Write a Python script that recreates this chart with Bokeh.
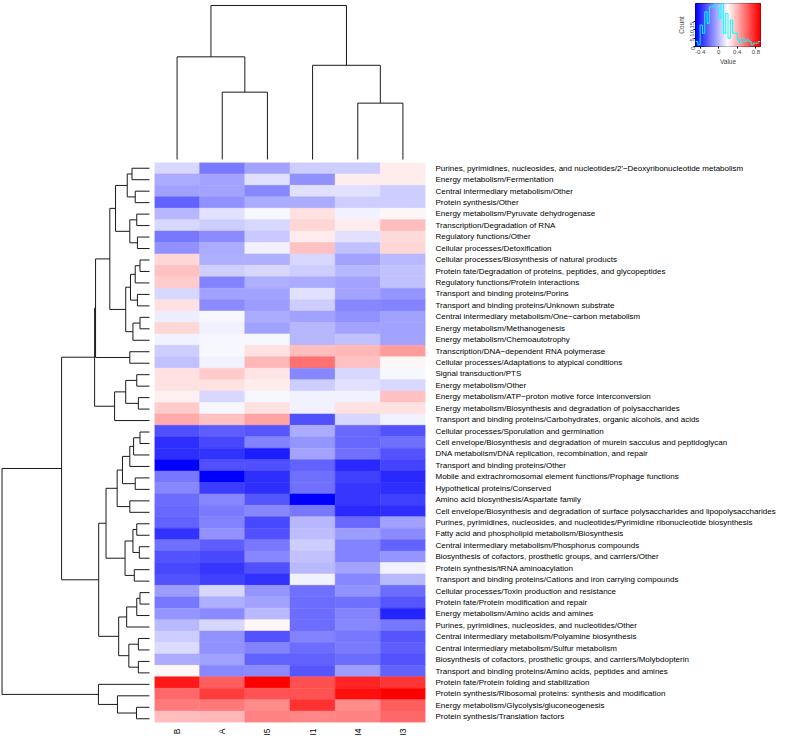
import numpy as np
from bokeh.plotting import figure
from bokeh.layouts import row, column
from bokeh.models import Range1d, FactorRange, LinearColorMapper, Spacer, FixedTicker, ColumnDataSource
from bokeh.transform import transform
from bokeh.embed import file_html
from bokeh.resources import INLINE

samples = ["B", "A", "I5", "I1", "I4", "I3"]

pathways = [
    "Purines, pyrimidines, nucleosides, and nucleotides/2'\u2212Deoxyribonucleotide metabolism",
    "Energy metabolism/Fermentation",
    "Central intermediary metabolism/Other",
    "Protein synthesis/Other",
    "Energy metabolism/Pyruvate dehydrogenase",
    "Transcription/Degradation of RNA",
    "Regulatory functions/Other",
    "Cellular processes/Detoxification",
    "Cellular processes/Biosynthesis of natural products",
    "Protein fate/Degradation of proteins, peptides, and glycopeptides",
    "Regulatory functions/Protein interactions",
    "Transport and binding proteins/Porins",
    "Transport and binding proteins/Unknown substrate",
    "Central intermediary metabolism/One\u2212carbon metabolism",
    "Energy metabolism/Methanogenesis",
    "Energy metabolism/Chemoautotrophy",
    "Transcription/DNA\u2212dependent RNA polymerase",
    "Cellular processes/Adaptations to atypical conditions",
    "Signal transduction/PTS",
    "Energy metabolism/Other",
    "Energy metabolism/ATP\u2212proton motive force interconversion",
    "Energy metabolism/Biosynthesis and degradation of polysaccharides",
    "Transport and binding proteins/Carbohydrates, organic alcohols, and acids",
    "Cellular processes/Sporulation and germination",
    "Cell envelope/Biosynthesis and degradation of murein sacculus and peptidoglycan",
    "DNA metabolism/DNA replication, recombination, and repair",
    "Transport and binding proteins/Other",
    "Mobile and extrachromosomal element functions/Prophage functions",
    "Hypothetical proteins/Conserved",
    "Amino acid biosynthesis/Aspartate family",
    "Cell envelope/Biosynthesis and degradation of surface polysaccharides and lipopolysaccharides",
    "Purines, pyrimidines, nucleosides, and nucleotides/Pyrimidine ribonucleotide biosynthesis",
    "Fatty acid and phospholipid metabolism/Biosynthesis",
    "Central intermediary metabolism/Phosphorus compounds",
    "Biosynthesis of cofactors, prosthetic groups, and carriers/Other",
    "Protein synthesis/tRNA aminoacylation",
    "Transport and binding proteins/Cations and iron carrying compounds",
    "Cellular processes/Toxin production and resistance",
    "Protein fate/Protein modification and repair",
    "Energy metabolism/Amino acids and amines",
    "Purines, pyrimidines, nucleosides, and nucleotides/Other",
    "Central intermediary metabolism/Polyamine biosynthesis",
    "Central intermediary metabolism/Sulfur metabolism",
    "Biosynthesis of cofactors, prosthetic groups, and carriers/Molybdopterin",
    "Transport and binding proteins/Amino acids, peptides and amines",
    "Protein fate/Protein folding and stabilization",
    "Protein synthesis/Ribosomal proteins: synthesis and modification",
    "Energy metabolism/Glycolysis/gluconeogenesis",
    "Protein synthesis/Translation factors",
]

val_B = [0.09, -0.03, -0.06, -0.23, 0.00, 0.09, -0.17, -0.10, 0.31, 0.37,
         0.34, 0.09, 0.28, 0.15, 0.31, 0.16, 0.06, 0.03, 0.28, 0.28,
         0.24, 0.34, 0.43, -0.28, -0.37, -0.37, -0.50, -0.17, -0.13, -0.20,
         -0.21, -0.23, -0.36, -0.19, -0.27, -0.30, -0.27, -0.07, -0.17, -0.09,
         0.01, 0.06, 0.10, -0.03, 0.22, 0.83, 0.61, 0.56, 0.38]
val_A = [-0.16, -0.05, -0.05, -0.10, 0.12, 0.06, -0.12, -0.03, -0.02, 0.07,
         -0.14, -0.06, -0.12, 0.18, 0.16, 0.18, 0.18, 0.16, 0.34, 0.28,
         0.09, 0.18, 0.37, -0.24, -0.30, -0.36, -0.28, -0.50, -0.33, -0.13,
         -0.16, -0.14, -0.10, -0.24, -0.30, -0.35, -0.32, 0.09, -0.02, -0.12,
         0.09, -0.10, -0.10, -0.06, -0.13, 0.64, 0.73, 0.57, 0.40]
val_I5 = [-0.05, 0.12, -0.13, -0.03, 0.18, 0.09, 0.05, 0.16, -0.02, 0.09,
          -0.02, -0.06, -0.07, -0.03, -0.06, 0.18, 0.28, 0.40, 0.27, 0.25,
          0.18, 0.28, 0.45, -0.26, -0.14, -0.42, -0.28, -0.37, -0.37, -0.26,
          -0.13, -0.30, -0.28, -0.17, -0.13, -0.28, -0.36, -0.09, -0.05, 0.01,
          0.22, -0.27, -0.14, -0.23, -0.12, 0.90, 0.67, 0.52, 0.54]
val_I1 = [0.06, -0.10, 0.12, -0.03, 0.28, 0.31, 0.25, 0.37, 0.09, 0.06,
          -0.03, 0.12, 0.06, -0.06, 0.00, 0.00, 0.38, 0.59, -0.13, 0.06,
          0.16, 0.16, -0.28, -0.03, -0.09, -0.05, -0.23, -0.19, -0.19, -0.50,
          -0.17, 0.00, 0.02, 0.06, 0.03, 0.01, 0.16, -0.19, -0.20, -0.20,
          -0.20, -0.14, -0.20, -0.23, -0.26, 0.68, 0.67, 0.76, 0.53]
val_I4 = [0.06, 0.25, 0.12, 0.06, 0.16, 0.25, 0.12, 0.03, -0.05, 0.00,
          -0.05, -0.05, -0.13, -0.10, -0.05, 0.03, 0.40, 0.37, 0.09, 0.12,
          0.16, 0.28, 0.09, -0.21, -0.21, -0.19, -0.39, -0.32, -0.35, -0.35,
          -0.39, -0.21, -0.07, -0.14, -0.14, -0.05, -0.13, -0.10, -0.19, -0.14,
          -0.13, -0.17, -0.16, -0.20, -0.07, 0.80, 0.86, 0.52, 0.54]
val_I3 = [0.25, 0.25, 0.06, 0.06, 0.22, 0.38, 0.30, 0.31, 0.01, 0.03,
          0.03, -0.09, -0.14, -0.06, -0.06, -0.05, 0.47, 0.22, 0.18, 0.09,
          0.37, 0.28, 0.16, -0.27, -0.19, -0.27, -0.31, -0.39, -0.37, -0.32,
          -0.37, -0.06, -0.12, -0.23, -0.09, 0.16, 0.01, -0.20, -0.26, -0.40,
          -0.17, -0.26, -0.24, -0.27, -0.23, 0.75, 0.90, 0.64, 0.61]

# hclust-style merges: negative = leaf (1-based row), positive = earlier merge
row_merges = [
    (-1, -2, 0.184), (-3, -4, 0.150), (1, 2, 0.234), (-5, -6, 0.134),
    (-7, -8, 0.127), (4, 5, 0.207), (3, 6, 0.357), (-9, -10, 0.100),
    (8, -11, 0.150), (-12, -13, 0.127), (9, 10, 0.200), (-14, -15, 0.100),
    (12, -16, 0.174), (11, 13, 0.250), (7, 14, 0.417), (-17, -18, 0.207),
    (15, 16, 0.567), (-19, -20, 0.134), (-21, -22, 0.117), (18, 19, 0.250),
    (20, -23, 0.367), (17, 21, 0.577), (-24, -25, 0.100), (23, -26, 0.167),
    (24, -27, 0.207), (-28, -29, 0.150), (25, 26, 0.284), (-30, -31, 0.207),
    (27, 28, 0.340), (-32, -33, 0.134), (-34, -35, 0.107), (30, 31, 0.174),
    (-36, -37, 0.160), (32, 33, 0.257), (29, 34, 0.457), (-38, -39, 0.100),
    (36, -40, 0.134), (37, -41, 0.240), (-42, -43, 0.117), (-44, -45, 0.117),
    (39, 40, 0.217), (38, 41, 0.324), (35, 42, 0.534), (22, 43, 0.924),
    (-48, -49, 0.137), (-47, 45, 0.337), (-46, 46, 0.537), (44, 47, 1.550),
]
col_merges = [(-2, -3, 0.717), (-5, -6, 0.600), (-1, 1, 1.093), (-4, 2, 1.003), (3, 4, 1.640)]

key_ticks = [-0.4, 0.0, 0.4, 0.8]
count_ticks = [0, 5, 10, 15]
VMIN, VMAX = -0.5, 0.9
N_HIST_BINS = 28

FONT = "Liberation Sans"
LINE = "#1a1a1a"

columns_vals = {"B": val_B, "A": val_A, "I5": val_I5, "I1": val_I1, "I4": val_I4, "I3": val_I3}
for s in samples:
    assert len(columns_vals[s]) == len(pathways)


def bluered(n):
    cols = []
    for i in range(n):
        t = i / (n - 1)
        if t < 0.5:
            s = t / 0.5
            g = int(round(255 * s))
            cols.append("#%02x%02xff" % (g, g))
        else:
            s = (t - 0.5) / 0.5
            g = int(round(255 * (1 - s)))
            cols.append("#ff%02x%02x" % (g, g))
    return cols


palette = bluered(255)
mapper = LinearColorMapper(palette=palette, low=VMIN, high=VMAX)


def dendro_segments(merges, leaf_pos):
    pos, hgt = {}, {}
    x0, y0, x1, y1 = [], [], [], []

    def get(ref):
        if ref < 0:
            return leaf_pos(-ref), 0.0
        return pos[ref], hgt[ref]

    for k, (a, b, h) in enumerate(merges, 1):
        pa, ha = get(a)
        pb, hb = get(b)
        for (p0, h0, p1, h1) in [(pa, ha, pa, h), (pa, h, pb, h), (pb, h, pb, hb)]:
            x0.append(p0); y0.append(h0); x1.append(p1); y1.append(h1)
        pos[k] = (pa + pb) / 2.0
        hgt[k] = h
    return x0, y0, x1, y1


def bare(p):
    p.outline_line_color = None
    p.grid.grid_line_color = None
    p.background_fill_color = None
    p.border_fill_color = None


n_rows = len(pathways)
TOTAL_W, TOTAL_H = 778, 738
LEFT_W = 154
TOP_H = 162
FW = 271
LABEL_W = TOTAL_W - LEFT_W - FW
BOTTOM_H = 14
FH = TOTAL_H - TOP_H - BOTTOM_H

# ---------------- heatmap ----------------
xs, ys, vs = [], [], []
for s in samples:
    for lab, v in zip(pathways, columns_vals[s]):
        xs.append(s); ys.append(lab); vs.append(v)
src = ColumnDataSource(dict(x=xs, y=ys, v=vs))

hm = figure(x_range=FactorRange(factors=samples), y_range=FactorRange(factors=list(reversed(pathways))),
            width=FW + LABEL_W, height=FH + BOTTOM_H, output_backend="svg", toolbar_location=None,
            x_axis_location="below", y_axis_location="right",
            min_border_left=0, min_border_right=LABEL_W, min_border_top=0, min_border_bottom=BOTTOM_H)
hm.rect(x="x", y="y", width=1, height=1, source=src,
        fill_color=transform("v", mapper), line_color=transform("v", mapper), line_width=0.5)
bare(hm)
for ax in (hm.xaxis[0], hm.yaxis[0]):
    ax.axis_line_color = None
    ax.major_tick_line_color = None
    ax.minor_tick_line_color = None
    ax.major_tick_out = 0
    ax.major_tick_in = 0
    ax.major_label_text_font = FONT
    ax.major_label_text_color = "black"
hm.yaxis[0].major_label_text_font_size = "8px"
hm.xaxis[0].major_label_text_font_size = "8.5px"
hm.yaxis[0].major_label_standoff = 10
hm.xaxis[0].major_label_standoff = 6
hm.xaxis[0].major_label_orientation = np.pi / 2

# ---------------- row dendrogram ----------------
rx0, ry0, rx1, ry1 = dendro_segments(row_merges, lambda i: n_rows - i + 0.5)
root_h = row_merges[-1][2]
ld = figure(frame_width=LEFT_W, frame_height=FH, x_range=Range1d(root_h + 0.016, -0.0525),
            y_range=Range1d(0, n_rows), output_backend="svg", toolbar_location=None,
            x_axis_location=None, y_axis_location=None,
            min_border_left=0, min_border_right=0, min_border_top=0, min_border_bottom=0)
ld.segment(x0=ry0, y0=rx0, x1=ry1, y1=rx1, line_color=LINE, line_width=1)
bare(ld)

# ---------------- column dendrogram ----------------
cx0, cy0, cx1, cy1 = dendro_segments(col_merges, lambda i: i - 0.5)
croot = col_merges[-1][2]
td = figure(frame_width=FW, frame_height=TOP_H, x_range=Range1d(0, len(samples)),
            y_range=Range1d(-0.064, croot + 0.021), output_backend="svg", toolbar_location=None,
            x_axis_location=None, y_axis_location=None,
            min_border_left=0, min_border_right=0, min_border_top=0, min_border_bottom=0)
td.segment(x0=cx0, y0=cy0, x1=cx1, y1=cy1, line_color=LINE, line_width=1)
bare(td)

# ---------------- colour key + histogram ----------------
all_vals = np.concatenate([np.array(columns_vals[s]) for s in samples])
hist_breaks = np.linspace(VMIN, VMAX, N_HIST_BINS + 1)
counts, _ = np.histogram(all_vals, bins=hist_breaks)
cmax = counts.max()

KEY_W = LABEL_W
KEY_LEFT = 695 - (LEFT_W + FW)
KEY_FW, KEY_FH = 65, 43
key = figure(width=KEY_W, height=TOP_H, x_range=Range1d(VMIN, VMAX), y_range=Range1d(0, cmax),
             output_backend="svg", toolbar_location=None,
             min_border_left=KEY_LEFT, min_border_right=KEY_W - KEY_LEFT - KEY_FW, min_border_top=3,
             min_border_bottom=TOP_H - 3 - KEY_FH)
cb = np.linspace(VMIN, VMAX, len(palette) + 1)
key.quad(left=cb[:-1], right=cb[1:], bottom=0, top=cmax, fill_color=palette, line_color=palette, line_width=0.5)
key.step(x=list(hist_breaks), y=list(counts) + [counts[-1]], mode="after", line_color="#00ffff", line_width=1)
key.grid.grid_line_color = None
key.outline_line_color = "black"
key.xaxis[0].ticker = FixedTicker(ticks=key_ticks)
key.xaxis[0].major_label_overrides = {-0.4: "-0.4", 0.0: "0", 0.4: "0.4", 0.8: "0.8"}
key.yaxis[0].ticker = FixedTicker(ticks=count_ticks)
key.xaxis[0].axis_label = "Value"
key.yaxis[0].axis_label = "Count"
for ax in (key.xaxis[0], key.yaxis[0]):
    ax.axis_line_color = None
    ax.major_tick_out = 2
    ax.major_tick_in = 0
    ax.minor_tick_line_color = None
    ax.major_label_standoff = 1
    ax.major_label_text_font = FONT
    ax.major_label_text_font_size = "6px"
    ax.axis_label_text_font = FONT
    ax.axis_label_text_font_size = "6.5px"
    ax.axis_label_text_font_style = "normal"
    ax.axis_label_standoff = 1
key.yaxis[0].major_label_orientation = np.pi / 2

layout = column(
    row(Spacer(width=LEFT_W, height=TOP_H), td, key),
    row(ld, hm),
)

open("out.html", "w").write(file_html(layout, INLINE))
